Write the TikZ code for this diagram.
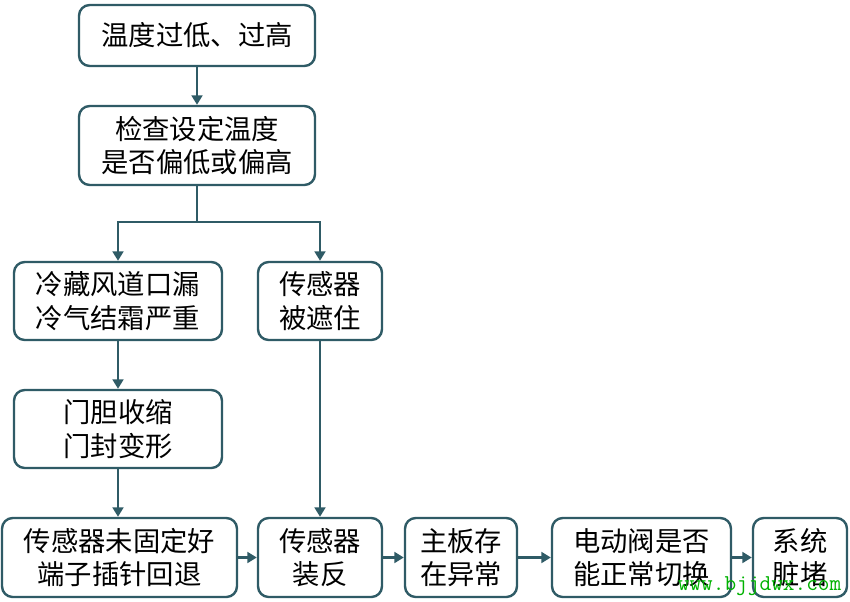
\documentclass[tikz,border=0pt]{standalone}
\usepackage{fontspec}
\setmainfont{Noto Sans CJK SC}
\usetikzlibrary{arrows.meta}
\definecolor{edge}{HTML}{2F5B66}
\tikzset{
  box/.style={draw=edge, line width=1.8pt, rounded corners=8pt, fill=white,
    align=center, font=\fontsize{20.5}{25}\selectfont, inner sep=0pt},
  link/.style={draw=edge, line width=1.8pt, -{Triangle[length=7pt,width=8pt]}}
}
\begin{document}
\begin{tikzpicture}[x=0.75pt,y=-0.75pt]
  \useasboundingbox (0,0) rectangle (850,601);
  % first column
  \node[box, minimum width=236*0.75pt, minimum height=61*0.75pt] (T1) at (197,35.5) {温度过低、过高};
  \node[box, minimum width=236*0.75pt, minimum height=79*0.75pt] (T2) at (197,145.5) {检查设定温度\\是否偏低或偏高};
  \node[box, minimum width=208*0.75pt, minimum height=78*0.75pt] (C1) at (118,301) {冷藏风道口漏\\冷气结霜严重};
  \node[box, minimum width=124*0.75pt, minimum height=78*0.75pt] (S1) at (320,301) {传感器\\被遮住};
  \node[box, minimum width=208*0.75pt, minimum height=78*0.75pt] (C2) at (118,429) {门胆收缩\\门封变形};
  % bottom row
  \node[box, minimum width=235*0.75pt, minimum height=79*0.75pt] (B1) at (119.5,557.5) {传感器未固定好\\端子插针回退};
  \node[box, minimum width=124*0.75pt, minimum height=79*0.75pt] (B2) at (320,557.5) {传感器\\装反};
  \node[box, minimum width=112*0.75pt, minimum height=79*0.75pt] (B3) at (461,557.5) {主板存\\在异常};
  \node[box, minimum width=179*0.75pt, minimum height=79*0.75pt] (B4) at (641.5,557.5) {电动阀是否\\能正常切换};
  \node[box, minimum width=94*0.75pt, minimum height=79*0.75pt] (B5) at (800,557.5) {系统\\脏堵};
  \coordinate (J) at (197,222);

  \draw[link] (T1) -- (T2);
  \draw[draw=edge, line width=1.8pt] (T2) -- (J);
  \draw[link] (J) -| (C1);
  \draw[link] (J) -| (S1);
  \draw[link] (C1) -- (C2);
  \draw[link] (C2.south) -- (C2.south |- B1.north);
  \draw[link] (S1) -- (B2);
  \draw[link] (B1) -- (B2);
  \draw[link] (B2) -- (B3);
  \draw[link] (B3) -- (B4);
  \draw[link] (B4) -- (B5);

  \node[text=green!70!black, font=\ttfamily\fontsize{17}{17}\selectfont, anchor=east] (W) at (846,586) {www.bjjdwx.com};
\end{tikzpicture}
\end{document}
